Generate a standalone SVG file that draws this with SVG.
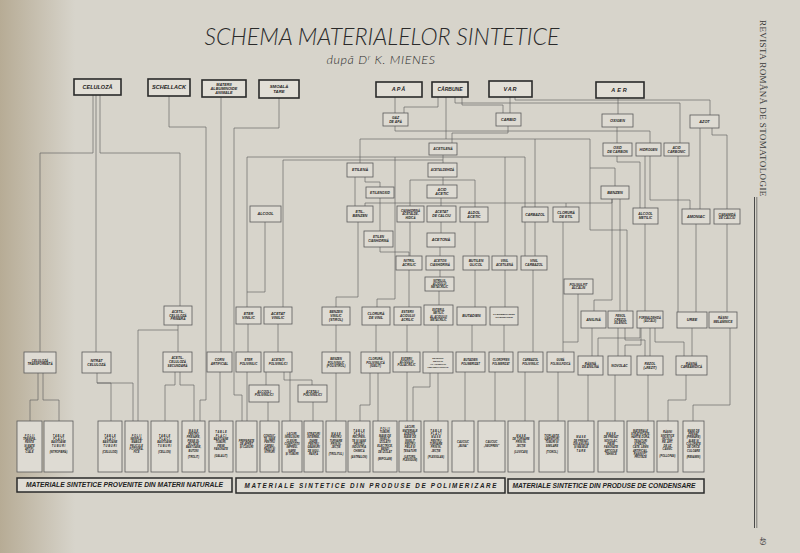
<svg xmlns="http://www.w3.org/2000/svg" width="800" height="553" viewBox="0 0 800 553">
<defs>
<linearGradient id="edge" x1="0" y1="0" x2="1" y2="0">
<stop offset="0" stop-color="#b3a78f" stop-opacity="0.9"/>
<stop offset="1" stop-color="#b3a78f" stop-opacity="0"/>
</linearGradient>
<style>
text{font-family:"Liberation Sans",Arial,sans-serif;font-weight:bold;font-style:italic;fill:#222;text-anchor:middle}
.plain{font-family:"Lato","Open Sans","Liberation Sans",sans-serif;font-weight:300;fill:#2a2a2a}
.m{font-family:"Liberation Serif","Times New Roman",serif;font-weight:normal;font-style:normal;text-anchor:start;fill:#3a3a3a}
.top{fill:#e2dfd7;stroke:#2a2a2a;stroke-width:1.6}
.n{fill:#dedbd3;stroke:#5a5a5a;stroke-width:0.8}
.p{fill:#dedbd3;stroke:#5a5a5a;stroke-width:0.8}
.band{fill:#e0ddd5;stroke:#2a2a2a;stroke-width:1.5}
.c{fill:none;stroke:#626262;stroke-width:0.65}
.s{font-size:2.6px}
</style>
</defs>
<rect width="800" height="553" fill="#d7d4cb"/>
<rect width="75" height="553" fill="url(#edge)"/>

<g id="title">
<text class="plain" x="382" y="45" font-size="23" textLength="355" lengthAdjust="spacingAndGlyphs">SCHEMA MATERIALELOR SINTETICE</text>
<text class="plain" x="381" y="63.5" font-size="12.5" letter-spacing="0.6">după D<tspan font-size="8" dy="-3.5">r</tspan><tspan dy="3.5"> K. MIENES</tspan></text>
</g>

<g id="connectors">
<path class="c" d="M93,95 V153 H40 V352 M96,95 V352 M100,95 V153 H180 V306 M169,96 V127 H206 V400 H200 V421 M221,97 V352 M279,98 V128 H234 V395 H242 V421 M178,325 V352 M178,330 H138 V421 M38,373 V400 H30 V422 M43,373 V400 H59 V421 M97,373 V383 H111 V421 M97,383 H133 V421 M175,372 V385 H165 V421 M180,372 V385 H194 V421 M220,372 V421"/>
<path class="c" d="M395,97 V113 M438,97 V107 H404 V113 M462,97 V105 H503 V113 M510,97 V113 M508,126 V133 H452 V143 M360,163 V139 H590 V168 H615 V186 M446,97 V139 M535,139 V207 M590,168 V230 H627 V311 M455,97 V103 H680 V143 M515,97 V100 H710 V115 M618,98 V114 M395,126 V131 H650 V143 M617,127 V143 M712,128 V135 H727 V209 M700,128 V209 M650,156 V200 H690 V209 M645,156 V208 M617,156 V162 H640 V208 M678,156 V312 M696,224 V312 M727,224 V312 M645,224 V311 M620,199 V311 M612,199 V300 H594 V311 M612,199 V203 H365 V206 M566,207 V203"/>
<path class="c" d="M618,328 V356 M625,328 V340 H645 V356 M650,328 V356 M641,328 V345 H625 V356 M655,328 V342 H684 V356 M640,328 V338 H598 V356 M592,328 V356 M692,328 V356 M730,328 V405 H693 V421 M686,375 V400 H668 V421 M563,222 V352 M578,294 V342 H563 M558,372 V421 M588,375 V421 M615,375 V421 M648,375 V421"/>
<path class="c" d="M443,155 V163 M247,307 V157 H525 V256 M505,157 V256 M395,157 V299 H377 V307 M265,222 V292 H247 M283,307 V160 H443 M365,177 V182 H380 V187 M355,177 V206 M358,222 V297 H336 V307 M380,198 V231 M380,247 V252 H409 V256 M410,222 V256 M410,206 V180 H475 V207 M443,177 V185 M441,198 V206 M441,222 V233 M440,247 V256 M440,270 V277 M439,291 V305 M438,325 V352 M475,222 V256 M475,270 V307 M505,270 V307 M535,222 V256 M533,270 V352 M472,325 V352 M504,325 V352 M336,325 V352 M376,325 V352 M407,325 V352 M409,270 V307 M248,324 V352 M278,324 V352 M266,372 V385 M284,372 V380 H312 V385"/>
<path class="c" d="M247,372 V421 M268,402 V421 M290,372 V421 M313,402 V421 M336,373 V421 M370,373 V405 H360 V421 M378,373 V421 M407,372 V421 M438,373 V421 M430,373 V387 H413 V421 M465,372 V421 M495,372 V421 M525,372 V421"/>
</g>

<g id="n-celuloza"><rect class="top" x="74" y="79" width="47" height="16"/><text x="97.5" y="88.9" font-size="5.5">CELULOZĂ</text></g>
<g id="n-schellack"><rect class="top" x="148" y="79" width="42" height="17"/><text x="169" y="89.4" font-size="5.5">SCHELLACK</text></g>
<g id="n-albuminoide"><rect class="top" x="202" y="80" width="44" height="17"/><text x="224" y="85.5" font-size="3.8"><tspan x="224">MATERII</tspan><tspan x="224" dy="4.3">ALBUMINOIDE</tspan><tspan x="224" dy="4.3">ANIMALE</tspan></text></g>
<g id="n-smoala"><rect class="top" x="259" y="80" width="40" height="18"/><text x="279" y="88" font-size="4.3"><tspan x="279">SMOALĂ</tspan><tspan x="279" dy="5">TARE</tspan></text></g>
<g id="n-apa"><rect class="top" x="376" y="82" width="46" height="15"/><text x="399" y="91.4" font-size="5.5" letter-spacing="1">APĂ</text></g>
<g id="n-carbune"><rect class="top" x="432" y="82" width="36" height="15"/><text x="450" y="91.3" font-size="5">CĂRBUNE</text></g>
<g id="n-var"><rect class="top" x="489" y="81" width="43" height="16"/><text x="510.5" y="91" font-size="5.5" letter-spacing="1">VAR</text></g>
<g id="n-aer"><rect class="top" x="596" y="82" width="48" height="16"/><text x="620" y="92" font-size="5.5" letter-spacing="2">AER</text></g>

<g id="n-gaz"><rect class="n" x="383" y="113" width="25" height="13"/><text x="395.5" y="118.7" font-size="3.4"><tspan x="395.5">GAZ</tspan><tspan x="395.5" dy="4.1">DE APĂ</tspan></text></g>
<g id="n-carbid"><rect class="n" x="496" y="113" width="25" height="13"/><text x="508.5" y="120.8" font-size="3.8">CARBID</text></g>
<g id="n-oxigen"><rect class="n" x="602" y="114" width="31" height="13"/><text x="617.5" y="121.8" font-size="3.8">OXIGEN</text></g>
<g id="n-azot"><rect class="n" x="690" y="115" width="29" height="13"/><text x="704.5" y="122.8" font-size="3.8">AZOT</text></g>
<g id="n-acetilena"><rect class="n" x="429" y="143" width="28" height="12"/><text x="443" y="150.2" font-size="3.4">ACETILENĂ</text></g>
<g id="n-oxidc"><rect class="n" x="603" y="143" width="29" height="13"/><text x="617.5" y="148.7" font-size="3.4"><tspan x="617.5">OXID</tspan><tspan x="617.5" dy="4.1">DE CARBON</tspan></text></g>
<g id="n-hidrogen"><rect class="n" x="636" y="143" width="25" height="13"/><text x="648.5" y="150.7" font-size="3.3">HIDROGEN</text></g>
<g id="n-acidcarb"><rect class="n" x="664" y="143" width="25" height="13"/><text x="676.5" y="148.7" font-size="3.3"><tspan x="676.5">ACID</tspan><tspan x="676.5" dy="4">CARBONIC</tspan></text></g>
<g id="n-etilena"><rect class="n" x="347" y="163" width="26" height="14"/><text x="360" y="171.3" font-size="3.8">ETILENĂ</text></g>
<g id="n-acetald"><rect class="n" x="428" y="163" width="29" height="14"/><text x="442.5" y="171.1" font-size="3">ACETALDEHIDĂ</text></g>
<g id="n-etilenoxid"><rect class="n" x="366" y="187" width="28" height="11"/><text x="380" y="193.7" font-size="3.3">ETILENOXID</text></g>
<g id="n-acidacetic"><rect class="n" x="427" y="185" width="30" height="13"/><text x="442" y="190.6" font-size="3.6"><tspan x="442">ACID</tspan><tspan x="442" dy="4.3">ACETIC</tspan></text></g>
<g id="n-benzen"><rect class="n" x="601" y="186" width="28" height="13"/><text x="615" y="193.8" font-size="3.8">BENZEN</text></g>
<g id="n-etilbenzen"><rect class="n" x="347" y="206" width="26" height="16"/><text x="360" y="213.1" font-size="3.6"><tspan x="360">ETIL-</tspan><tspan x="360" dy="4.3">BENZEN</tspan></text></g>
<g id="n-cianhidrina"><rect class="n" x="397" y="206" width="27" height="16"/><text x="410.5" y="211.5" font-size="2.9"><tspan x="410.5">CIANHIDRINĂ</tspan><tspan x="410.5" dy="3.5">ACETALDE-</tspan><tspan x="410.5" dy="3.5">HIDICĂ</tspan></text></g>
<g id="n-acetatcalciu"><rect class="n" x="427" y="206" width="29" height="16"/><text x="441.5" y="213.2" font-size="3.4"><tspan x="441.5">ACETAT</tspan><tspan x="441.5" dy="4.1">DE CALCIU</tspan></text></g>
<g id="n-aldol"><rect class="n" x="460" y="207" width="28" height="15"/><text x="474" y="213.6" font-size="3.6"><tspan x="474">ALDOL</tspan><tspan x="474" dy="4.3">ACETIC</tspan></text></g>
<g id="n-carbazol"><rect class="n" x="522" y="207" width="26" height="15"/><text x="535" y="215.7" font-size="3.5">CARBAZOL</text></g>
<g id="n-cloruraetil"><rect class="n" x="553" y="207" width="26" height="15"/><text x="566" y="213.6" font-size="3.5"><tspan x="566">CLORURĂ</tspan><tspan x="566" dy="4.2">DE ETIL</tspan></text></g>
<g id="n-alcool"><rect class="n" x="250" y="206" width="31" height="16"/><text x="265.5" y="215.3" font-size="3.8">ALCOOL</text></g>
<g id="n-alcoolmetilic"><rect class="n" x="633" y="208" width="25" height="16"/><text x="645.5" y="215.2" font-size="3.4"><tspan x="645.5">ALCOOL</tspan><tspan x="645.5" dy="4.1">METILIC</tspan></text></g>
<g id="n-amoniac"><rect class="n" x="682" y="209" width="28" height="15"/><text x="696" y="217.8" font-size="3.8">AMONIAC</text></g>
<g id="n-cianamida"><rect class="n" x="714" y="209" width="26" height="15"/><text x="727" y="215.8" font-size="3"><tspan x="727">CIANAMIDĂ</tspan><tspan x="727" dy="3.6">DE CALCIU</tspan></text></g>
<g id="n-etilencian"><rect class="n" x="364" y="231" width="29" height="16"/><text x="378.5" y="238.2" font-size="3.1"><tspan x="378.5">ETILEN</tspan><tspan x="378.5" dy="3.7">CIANHIDRINĂ</tspan></text></g>
<g id="n-acetona"><rect class="n" x="427" y="233" width="28" height="14"/><text x="441" y="241.3" font-size="3.8">ACETONĂ</text></g>
<g id="n-nitrilacrilic"><rect class="n" x="396" y="256" width="26" height="14"/><text x="409" y="262.2" font-size="3.4"><tspan x="409">NITRIL</tspan><tspan x="409" dy="4.1">ACRILIC</tspan></text></g>
<g id="n-acetoncian"><rect class="n" x="426" y="256" width="28" height="14"/><text x="440" y="262.3" font-size="3"><tspan x="440">ACETON</tspan><tspan x="440" dy="3.6">CIANHIDRINĂ</tspan></text></g>
<g id="n-butilen"><rect class="n" x="463" y="256" width="26" height="14"/><text x="476" y="262.2" font-size="3.4"><tspan x="476">BUTILEN</tspan><tspan x="476" dy="4.1">GLICOL</tspan></text></g>
<g id="n-vinilacet"><rect class="n" x="492" y="256" width="25" height="14"/><text x="504.5" y="262.3" font-size="3"><tspan x="504.5">VINIL</tspan><tspan x="504.5" dy="3.6">ACETILENĂ</tspan></text></g>
<g id="n-vinilcarb"><rect class="n" x="521" y="256" width="26" height="14"/><text x="534" y="262.2" font-size="3.2"><tspan x="534">VINIL</tspan><tspan x="534" dy="3.8">CARBAZOL</tspan></text></g>
<g id="n-nitrilmeta"><rect class="n" x="425" y="277" width="29" height="14"/><text x="439.5" y="281.6" font-size="2.8"><tspan x="439.5">NITRILUL</tspan><tspan x="439.5" dy="3.4">ACIDULUI</tspan><tspan x="439.5" dy="3.4">METACRILIC</tspan></text></g>
<g id="n-polisulfit"><rect class="n" x="564" y="279" width="29" height="15"/><text x="578.5" y="285.7" font-size="3.1"><tspan x="578.5">POLISULFIT</tspan><tspan x="578.5" dy="3.7">ALCALIN</tspan></text></g>
<g id="n-acetilcelprim"><rect class="n" x="164" y="306" width="28" height="19"/><text x="178" y="312.8" font-size="3.2"><tspan x="178">ACETIL-</tspan><tspan x="178" dy="3.8">CELULOZĂ</tspan><tspan x="178" dy="3.8">PRIMARĂ</tspan></text></g>
<g id="n-etervinilic"><rect class="n" x="236" y="307" width="25" height="17"/><text x="248.5" y="314.6" font-size="3.6"><tspan x="248.5">ETER</tspan><tspan x="248.5" dy="4.3">VINILIC</tspan></text></g>
<g id="n-acetatvinilic"><rect class="n" x="264" y="307" width="28" height="17"/><text x="278" y="314.6" font-size="3.6"><tspan x="278">ACETAT</tspan><tspan x="278" dy="4.3">VINILIC</tspan></text></g>
<g id="n-benzenvinilic"><rect class="n" x="322" y="307" width="28" height="18"/><text x="336" y="313.3" font-size="3.2"><tspan x="336">BENZEN</tspan><tspan x="336" dy="3.8">VINILIC</tspan><tspan x="336" dy="3.8">(STIROL)</tspan></text></g>
<g id="n-cloruravinil"><rect class="n" x="362" y="307" width="28" height="18"/><text x="376" y="315.2" font-size="3.4"><tspan x="376">CLORURĂ</tspan><tspan x="376" dy="4.1">DE VINIL</tspan></text></g>
<g id="n-esteriiacril"><rect class="n" x="394" y="307" width="27" height="18"/><text x="407.5" y="313.4" font-size="3.1"><tspan x="407.5">ESTERII</tspan><tspan x="407.5" dy="3.7">ACIDULUI</tspan><tspan x="407.5" dy="3.7">ACRILIC</tspan></text></g>
<g id="n-esterulmeta"><rect class="n" x="424" y="305" width="29" height="20"/><text x="438.5" y="311.1" font-size="2.7"><tspan x="438.5">ESTERUL</tspan><tspan x="438.5" dy="3.2">METILIC</tspan><tspan x="438.5" dy="3.2">AL ACIDULUI</tspan><tspan x="438.5" dy="3.2">METACRILIC</tspan></text></g>
<g id="n-butadien"><rect class="n" x="457" y="307" width="29" height="18"/><text x="471.5" y="317.3" font-size="3.6">BUTADIEN</text></g>
<g id="n-cloropren"><rect class="n" x="490" y="307" width="28" height="18"/><text x="504" y="315.4" font-size="2.5"><tspan x="504">CLOROBUTADIEN</tspan><tspan x="504" dy="3">(CLOROPREN)</tspan></text></g>
<g id="n-anilina"><rect class="n" x="581" y="311" width="25" height="17"/><text x="593.5" y="320.8" font-size="3.6">ANILINĂ</text></g>
<g id="n-fenol"><rect class="n" x="608" y="311" width="25" height="17"/><text x="620.5" y="317" font-size="3"><tspan x="620.5">FENOL</tspan><tspan x="620.5" dy="3.6">CREZOL</tspan><tspan x="620.5" dy="3.6">XILENOL</tspan></text></g>
<g id="n-formald"><rect class="n" x="637" y="311" width="26" height="17"/><text x="650" y="318.8" font-size="2.7"><tspan x="650">FORMALDEHIDĂ</tspan><tspan x="650" dy="3.2">(ALCALII)</tspan></text></g>
<g id="n-uree"><rect class="n" x="677" y="312" width="30" height="16"/><text x="692" y="321.3" font-size="3.8">UREE</text></g>
<g id="n-rasinimelam"><rect class="n" x="709" y="312" width="28" height="16"/><text x="723" y="319.3" font-size="3"><tspan x="723">RĂȘINI</tspan><tspan x="723" dy="3.6">MELAMINICE</tspan></text></g>
<g id="n-celtransf"><rect class="n" x="24" y="352" width="32" height="21" stroke-width="1.1"/><text x="40" y="361.8" font-size="3"><tspan x="40">CELULOZĂ</tspan><tspan x="40" dy="3.6">TRANSFORMATĂ</tspan></text></g>
<g id="n-nitratcel"><rect class="n" x="82" y="352" width="29" height="21"/><text x="96.5" y="361.7" font-size="3.4"><tspan x="96.5">NITRAT</tspan><tspan x="96.5" dy="4.1">CELULOZĂ</tspan></text></g>
<g id="n-acetilcelsec"><rect class="n" x="163" y="352" width="29" height="20"/><text x="177.5" y="359.4" font-size="3.1"><tspan x="177.5">ACETIL-</tspan><tspan x="177.5" dy="3.7">CELULOZĂ</tspan><tspan x="177.5" dy="3.7">SECUNDARĂ</tspan></text></g>
<g id="n-corn"><rect class="n" x="207" y="352" width="25" height="20"/><text x="219.5" y="361.2" font-size="3.2"><tspan x="219.5">CORN</tspan><tspan x="219.5" dy="3.8">ARTIFICIAL</tspan></text></g>
<g id="n-eterpoli"><rect class="n" x="236" y="352" width="25" height="20"/><text x="248.5" y="361.3" font-size="3"><tspan x="248.5">ETER</tspan><tspan x="248.5" dy="3.6">POLIVINILIC</tspan></text></g>
<g id="n-acetatipoli"><rect class="n" x="264" y="352" width="28" height="20"/><text x="278" y="361.3" font-size="3"><tspan x="278">ACETAȚI</tspan><tspan x="278" dy="3.6">POLIVINILICI</tspan></text></g>
<g id="n-polistirol"><rect class="n" x="322" y="352" width="28" height="21"/><text x="336" y="360.1" font-size="2.8"><tspan x="336">BENZEN</tspan><tspan x="336" dy="3.4">POLIVINILIC</tspan><tspan x="336" dy="3.4">(POLISTIROL)</tspan></text></g>
<g id="n-igelit"><rect class="n" x="361" y="352" width="29" height="21"/><text x="375.5" y="360.1" font-size="2.8"><tspan x="375.5">CLORURĂ</tspan><tspan x="375.5" dy="3.4">POLIVINILICĂ</tspan><tspan x="375.5" dy="3.4">(IGELIT)</tspan></text></g>
<g id="n-poliacrilic"><rect class="n" x="393" y="352" width="27" height="20"/><text x="406.5" y="359.6" font-size="2.8"><tspan x="406.5">ESTERII</tspan><tspan x="406.5" dy="3.4">ACIDULUI</tspan><tspan x="406.5" dy="3.4">POLIACRILIC</tspan></text></g>
<g id="n-polimetacr"><rect class="n" x="423" y="352" width="30" height="21"/><text x="438" y="358.9" font-size="2.5"><tspan x="438">ESTERUL</tspan><tspan x="438" dy="3">METILIC</tspan><tspan x="438" dy="3">AL ACIDULUI</tspan><tspan x="438" dy="3">POLIMETACRILIC</tspan></text></g>
<g id="n-butadienpol"><rect class="n" x="456" y="352" width="29" height="20"/><text x="470.5" y="361.3" font-size="2.8"><tspan x="470.5">BUTADIEN</tspan><tspan x="470.5" dy="3.4">POLIMERIZAT</tspan></text></g>
<g id="n-clorprenpol"><rect class="n" x="489" y="352" width="24" height="20"/><text x="501" y="361.4" font-size="2.6"><tspan x="501">CLOROPREN</tspan><tspan x="501" dy="3.1">POLIMERIZAT</tspan></text></g>
<g id="n-carbazolpoli"><rect class="n" x="518" y="352" width="25" height="20"/><text x="530.5" y="361.3" font-size="2.8"><tspan x="530.5">CARBAZOL</tspan><tspan x="530.5" dy="3.4">POLIVINILIC</tspan></text></g>
<g id="n-guma"><rect class="n" x="547" y="352" width="27" height="20"/><text x="560.5" y="361.4" font-size="2.6"><tspan x="560.5">GUMĂ</tspan><tspan x="560.5" dy="3.1">POLISULFIDICĂ</tspan></text></g>
<g id="n-rasinaanilina"><rect class="n" x="578" y="356" width="25" height="19"/><text x="590.5" y="364.8" font-size="3"><tspan x="590.5">RĂȘINĂ</tspan><tspan x="590.5" dy="3.6">DE ANILINĂ</tspan></text></g>
<g id="n-novolac"><rect class="n" x="608" y="356" width="23" height="19"/><text x="619.5" y="366.7" font-size="3.3">NOVOLAC</text></g>
<g id="n-rezol"><rect class="n" x="637" y="356" width="26" height="19"/><text x="650" y="364.7" font-size="3.2"><tspan x="650">REZOL</tspan><tspan x="650" dy="3.8">(+REZIT)</tspan></text></g>
<g id="n-carbamidica"><rect class="n" x="676" y="356" width="31" height="19"/><text x="691.5" y="364.8" font-size="3"><tspan x="691.5">RĂȘINĂ</tspan><tspan x="691.5" dy="3.6">CARBAMIDICĂ</tspan></text></g>
<g id="n-alcoolipoli"><rect class="n" x="249" y="385" width="30" height="17"/><text x="264" y="392.8" font-size="3"><tspan x="264">ALCOOLI</tspan><tspan x="264" dy="3.6">POLIVINILICI</tspan></text></g>
<g id="n-acetalipoli"><rect class="n" x="298" y="385" width="29" height="17"/><text x="312.5" y="392.8" font-size="3"><tspan x="312.5">ACETALI</tspan><tspan x="312.5" dy="3.6">POLIVINILICI</tspan></text></g>

<g id="p-1"><rect class="p" x="17" y="421" width="25" height="51"/><text class="s" x="29.5" y="436.7"><tspan x="29.5">F O L I I</tspan><tspan x="29.5" dy="3.3">TRANSPA-</tspan><tspan x="29.5" dy="3.3">RENTE</tspan><tspan x="29.5" dy="3.3">ȘI MATE</tspan><tspan x="29.5" dy="3.3">ARTIFI-</tspan><tspan x="29.5" dy="3.3">CIALE</tspan></text></g>
<g id="p-2"><rect class="p" x="44" y="421" width="29" height="51"/><text class="s" x="58.5" y="436.7"><tspan x="58.5">T A B L E</tspan><tspan x="58.5" dy="3.3">P L Ă C I</tspan><tspan x="58.5" dy="3.3">BASTOANE</tspan><tspan x="58.5" dy="3.3">T U B U R I</tspan><tspan x="58.5" dy="6.6">(NITROFIBRĂ)</tspan></text></g>
<g id="p-3"><rect class="p" x="98" y="421" width="24" height="51"/><text class="s" x="110" y="436.7"><tspan x="110">T A B L E</tspan><tspan x="110" dy="3.3">P L Ă C I</tspan><tspan x="110" dy="3.3">BASTOANE</tspan><tspan x="110" dy="3.3">T U B U R I</tspan><tspan x="110" dy="6.6">(CELULOID)</tspan></text></g>
<g id="p-4"><rect class="p" x="125" y="421" width="23" height="51"/><text class="s" x="136.5" y="436.7"><tspan x="136.5">F O L I I</tspan><tspan x="136.5" dy="3.3">NEINFLA-</tspan><tspan x="136.5" dy="3.3">MABILE</tspan><tspan x="136.5" dy="3.3">PELICULE</tspan><tspan x="136.5" dy="3.3">FOTOGRA-</tspan><tspan x="136.5" dy="3.3">FICE</tspan></text></g>
<g id="p-5"><rect class="p" x="151" y="421" width="27" height="51"/><text class="s" x="164.5" y="436.7"><tspan x="164.5">T A B L E</tspan><tspan x="164.5" dy="3.3">P L Ă C I</tspan><tspan x="164.5" dy="3.3">BASTOANE</tspan><tspan x="164.5" dy="3.3">T U B U R I</tspan><tspan x="164.5" dy="6.6">(CELLON)</tspan></text></g>
<g id="p-6"><rect class="p" x="182" y="421" width="23" height="51"/><text class="s" x="193.5" y="431.7"><tspan x="193.5">M A S E</tspan><tspan x="193.5" dy="3.3">PENTRU</tspan><tspan x="193.5" dy="3.3">PRESARE,</tspan><tspan x="193.5" dy="3.3">PIESE IN-</tspan><tspan x="193.5" dy="3.3">JECTATE,</tspan><tspan x="193.5" dy="3.3">BASTOANE,</tspan><tspan x="193.5" dy="3.3">BUTONI</tspan><tspan x="193.5" dy="6.6">(TROLIT)</tspan></text></g>
<g id="p-7"><rect class="p" x="209" y="421" width="24" height="51"/><text class="s" x="221" y="433.4"><tspan x="221">T A B L E</tspan><tspan x="221" dy="3.3">P L Ă C I</tspan><tspan x="221" dy="3.3">BASTOANE</tspan><tspan x="221" dy="3.3">TUBURI,</tspan><tspan x="221" dy="3.3">PIESE</tspan><tspan x="221" dy="3.3">FASONATE</tspan><tspan x="221" dy="6.6">(GALALIT)</tspan></text></g>
<g id="p-8"><rect class="p" x="236" y="421" width="21" height="51"/><text class="s" x="246.5" y="441.6"><tspan x="246.5">PREPARATE</tspan><tspan x="246.5" dy="3.3">DE APRET</tspan><tspan x="246.5" dy="3.3">ȘI CLEIURI</tspan></text></g>
<g id="p-9"><rect class="p" x="260" y="421" width="19" height="51"/><text class="s" x="269.5" y="436.7"><tspan x="269.5">CONDUC-</tspan><tspan x="269.5" dy="3.3">TE, VASE</tspan><tspan x="269.5" dy="3.3">PENTRU</tspan><tspan x="269.5" dy="3.3">CARBU-</tspan><tspan x="269.5" dy="3.3">RANȚI ȘI</tspan><tspan x="269.5" dy="3.3">VITRURI</tspan></text></g>
<g id="p-10"><rect class="p" x="282" y="421" width="20" height="51"/><text class="s" x="292" y="435"><tspan x="292">LACURI,</tspan><tspan x="292" dy="3.3">ÎNVELIȘURI</tspan><tspan x="292" dy="3.3">CLEIURI,</tspan><tspan x="292" dy="3.3">COMPOZIȚII</tspan><tspan x="292" dy="3.3">IMPREG-</tspan><tspan x="292" dy="3.3">NARE</tspan><tspan x="292" dy="3.3">ȘI TUBURI</tspan></text></g>
<g id="p-11"><rect class="p" x="304" y="421" width="19" height="51"/><text class="s" x="313.5" y="435"><tspan x="313.5">STRATURI</tspan><tspan x="313.5" dy="3.3">INTERME-</tspan><tspan x="313.5" dy="3.3">DIARE</tspan><tspan x="313.5" dy="3.3">PENTRU</tspan><tspan x="313.5" dy="3.3">GEAMURI</tspan><tspan x="313.5" dy="3.3">DE SIGU-</tspan><tspan x="313.5" dy="3.3">RANȚĂ</tspan></text></g>
<g id="p-12"><rect class="p" x="326" y="421" width="20" height="51"/><text class="s" x="336" y="435"><tspan x="336">M A S E</tspan><tspan x="336" dy="3.3">PENTRU</tspan><tspan x="336" dy="3.3">TURNARE</tspan><tspan x="336" dy="3.3">PRIN IN-</tspan><tspan x="336" dy="3.3">JECȚIE</tspan><tspan x="336" dy="6.6">(TROLITUL)</tspan></text></g>
<g id="p-13"><rect class="p" x="348" y="421" width="22" height="51"/><text class="s" x="359" y="431.7"><tspan x="359">T A B L E</tspan><tspan x="359" dy="3.3">P L Ă C I</tspan><tspan x="359" dy="3.3">RECIPIEN-</tspan><tspan x="359" dy="3.3">TE ȘI VASE</tspan><tspan x="359" dy="3.3">PENTRU</tspan><tspan x="359" dy="3.3">INDUSTRIA</tspan><tspan x="359" dy="3.3">CHIMICĂ</tspan><tspan x="359" dy="6.6">(ASTRALON)</tspan></text></g>
<g id="p-14"><rect class="p" x="373" y="421" width="24" height="51"/><text class="s" x="385" y="430"><tspan x="385">F O L I I</tspan><tspan x="385" dy="3.3">TUBURI,</tspan><tspan x="385" dy="3.3">MASE DE</tspan><tspan x="385" dy="3.3">ÎNVELIT,</tspan><tspan x="385" dy="3.3">IZOLAȚII</tspan><tspan x="385" dy="3.3">ELECTRICE,</tspan><tspan x="385" dy="3.3">BENZI</tspan><tspan x="385" dy="3.3">DE IZOLAT</tspan><tspan x="385" dy="6.6">(MIPOLAM)</tspan></text></g>
<g id="p-15"><rect class="p" x="399" y="421" width="22" height="51"/><text class="s" x="410" y="428.4"><tspan x="410">LACURI,</tspan><tspan x="410" dy="3.3">MATERIALE</tspan><tspan x="410" dy="3.3">ADEZIVE,</tspan><tspan x="410" dy="3.3">MASE DE</tspan><tspan x="410" dy="3.3">ÎNVELIT</tspan><tspan x="410" dy="3.3">PENTRU</tspan><tspan x="410" dy="3.3">PIELE ȘI</tspan><tspan x="410" dy="3.3">ȚESĂTURI</tspan><tspan x="410" dy="6.6">(LETORIL</tspan><tspan x="410" dy="3.3">PLEXIGUM)</tspan></text></g>
<g id="p-16"><rect class="p" x="424" y="421" width="24" height="51"/><text class="s" x="436" y="431.7"><tspan x="436">T A B L E</tspan><tspan x="436" dy="3.3">P L Ă C I</tspan><tspan x="436" dy="3.3">M A S E</tspan><tspan x="436" dy="3.3">PENTRU</tspan><tspan x="436" dy="3.3">TURNARE</tspan><tspan x="436" dy="3.3">PRIN IN-</tspan><tspan x="436" dy="3.3">JECȚIE</tspan><tspan x="436" dy="6.6">(PLEXIGLAS)</tspan></text></g>
<g id="p-17"><rect class="p" x="452" y="421" width="22" height="51"/><text class="s" x="463" y="443.3"><tspan x="463">CAUCIUC</tspan><tspan x="463" dy="3.3">„BUNA”</tspan></text></g>
<g id="p-18"><rect class="p" x="478" y="421" width="27" height="51"/><text class="s" x="491.5" y="443.3"><tspan x="491.5">CAUCIUC</tspan><tspan x="491.5" dy="3.3">„NEOPREN”</tspan></text></g>
<g id="p-19"><rect class="p" x="508" y="421" width="26" height="51"/><text class="s" x="521" y="436.7"><tspan x="521">M A S E</tspan><tspan x="521" dy="3.3">DE TURNARE</tspan><tspan x="521" dy="3.3">PRIN IN-</tspan><tspan x="521" dy="3.3">JECȚIE</tspan><tspan x="521" dy="6.6">(LUVICAN)</tspan></text></g>
<g id="p-20"><rect class="p" x="539" y="421" width="26" height="51"/><text class="s" x="552" y="436.7"><tspan x="552">TIOPLASTE,</tspan><tspan x="552" dy="3.3">GARNITURI,</tspan><tspan x="552" dy="3.3">TUBURI ȘI</tspan><tspan x="552" dy="3.3">SIMILARE</tspan><tspan x="552" dy="6.6">(TIOKOL)</tspan></text></g>
<g id="p-21"><rect class="p" x="568" y="421" width="26" height="51"/><text class="s" x="581" y="438.3"><tspan x="581">M A S E</tspan><tspan x="581" dy="3.3">DE PRESAT</tspan><tspan x="581" dy="3.3">DIN ANILINĂ</tspan><tspan x="581" dy="3.3">ȘI MASELE</tspan><tspan x="581" dy="3.3">T A R E</tspan></text></g>
<g id="p-22"><rect class="p" x="598" y="421" width="26" height="51"/><text class="s" x="611" y="435"><tspan x="611">M A S E</tspan><tspan x="611" dy="3.3">DE PRESAT</tspan><tspan x="611" dy="3.3">NOVOLAC,</tspan><tspan x="611" dy="3.3">PIESE</tspan><tspan x="611" dy="3.3">FASONATE</tspan><tspan x="611" dy="3.3">ARTICOLE</tspan><tspan x="611" dy="3.3">TEHNICE</tspan></text></g>
<g id="p-23"><rect class="p" x="627" y="421" width="27" height="51"/><text class="s" x="640.5" y="431.7"><tspan x="640.5">MATERIALE</tspan><tspan x="640.5" dy="3.3">STRATIFICATE,</tspan><tspan x="640.5" dy="3.3">HÂRTIE DURĂ,</tspan><tspan x="640.5" dy="3.3">ȚESĂTURI</tspan><tspan x="640.5" dy="3.3">STRATIFI-</tspan><tspan x="640.5" dy="3.3">CATE, LEMN</tspan><tspan x="640.5" dy="3.3">ARTIFICIAL,</tspan><tspan x="640.5" dy="3.3">RĂȘINI PT.</tspan><tspan x="640.5" dy="3.3">PROTEZE</tspan></text></g>
<g id="p-24"><rect class="p" x="657" y="421" width="21" height="51"/><text class="s" x="667.5" y="433.4"><tspan x="667.5">RĂȘINI</tspan><tspan x="667.5" dy="3.3">SINTETICE</tspan><tspan x="667.5" dy="3.3">INCOLO-</tspan><tspan x="667.5" dy="3.3">RE, ART.</tspan><tspan x="667.5" dy="3.3">DE UZ</tspan><tspan x="667.5" dy="3.3">CASNIC</tspan><tspan x="667.5" dy="6.6">(POLLOPAS)</tspan></text></g>
<g id="p-25"><rect class="p" x="683" y="421" width="21" height="51"/><text class="s" x="693.5" y="431.7"><tspan x="693.5">MASE DE</tspan><tspan x="693.5" dy="3.3">PRESAT</tspan><tspan x="693.5" dy="3.3">(PRIMARE)</tspan><tspan x="693.5" dy="3.3">ALBE ȘI</tspan><tspan x="693.5" dy="3.3">COLORATE</tspan><tspan x="693.5" dy="3.3">DE ORICE</tspan><tspan x="693.5" dy="3.3">CULOARE</tspan><tspan x="693.5" dy="6.6">(RESAMIN)</tspan></text></g>

<g id="band-naturale"><rect class="band" x="17" y="478" width="215" height="14"/><text x="124.5" y="487.4" font-size="6.3" textLength="197" lengthAdjust="spacingAndGlyphs">MATERIALE SINTETICE PROVENITE DIN MATERII NATURALE</text></g>
<g id="band-polimerizare"><rect class="band" x="236" y="478" width="269" height="15"/><text x="370.5" y="488" font-size="6.3" textLength="252" lengthAdjust="spacing">MATERIALE SINTETICE DIN PRODUSE DE POLIMERIZARE</text></g>
<g id="band-condensare"><rect class="band" x="508" y="479" width="196" height="14"/><text x="604" y="488.4" font-size="6.3" textLength="183" lengthAdjust="spacingAndGlyphs">MATERIALE SINTETICE DIN PRODUSE DE CONDENSARE</text></g>

<g id="margin">
<text class="m" x="0" y="0" transform="translate(760,20) rotate(90)" font-size="9" letter-spacing="0.4">REVISTA ROMÂNĂ DE STOMATOLOGIE</text>
<line x1="754.5" y1="197" x2="754.5" y2="528" stroke="#3a3a3a" stroke-width="0.9"/>
<line x1="756.8" y1="197" x2="756.8" y2="528" stroke="#3a3a3a" stroke-width="0.6"/>
<text class="m" x="0" y="0" transform="translate(760,537) rotate(90)" font-size="8">49</text>
</g>
</svg>
